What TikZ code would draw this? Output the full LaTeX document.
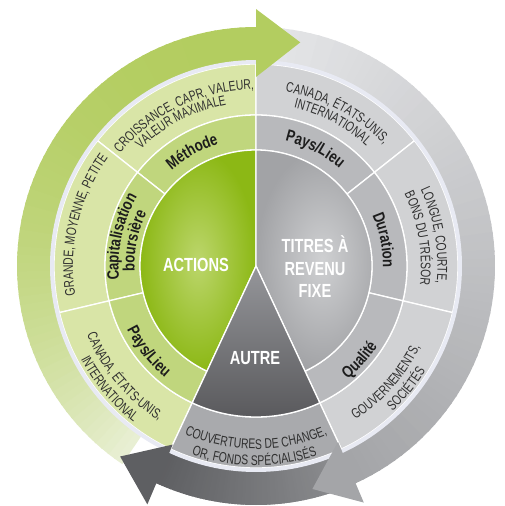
\documentclass[tikz,border=0pt]{standalone}
\usepackage{fontspec}
\setmainfont{Liberation Sans}
\newfontfamily\otf{Liberation Sans}[FakeStretch=0.74]
\newfontfamily\lbf{Liberation Sans Bold}[FakeStretch=0.8]
\newfontfamily\cbf{Liberation Sans Bold}[FakeStretch=0.77]
\usetikzlibrary{decorations.text}

\definecolor{gtail}{HTML}{E8EFD3}
\definecolor{ghead}{HTML}{B3CD60}
\definecolor{ltail}{HTML}{E6E7E9}
\definecolor{lhead}{HTML}{A4A5A8}
\definecolor{dtail}{HTML}{8E8F92}
\definecolor{dhead}{HTML}{5E5F62}
\definecolor{lavc}{HTML}{E8EAF3}
\definecolor{gtext}{HTML}{D9E5A7}
\definecolor{gmid}{HTML}{C0D67D}
\definecolor{ytext}{HTML}{D1D2D4}
\definecolor{ymid}{HTML}{B8B9BC}
\definecolor{atext}{HTML}{A9AAAD}
\definecolor{gcin}{HTML}{BCD66C}
\definecolor{gcout}{HTML}{8CB815}
\definecolor{ycin}{HTML}{CFD0D2}
\definecolor{ycout}{HTML}{A2A3A6}
\definecolor{atop}{HTML}{95969A}
\definecolor{abot}{HTML}{58585B}
\definecolor{txtc}{HTML}{2F2F2F}
\definecolor{labc}{HTML}{1C1C1C}

\newcommand\outf{\otf\fontsize{14pt}{14pt}\selectfont\color{txtc}}
\newcommand\labf{\lbf\fontsize{16.5pt}{16.5pt}\selectfont\color{labc}}
\newcommand\cenf{\cbf\fontsize{19pt}{22.5pt}\selectfont}

\newcommand\ringsec[5]{\filldraw[#5] (#1:#3pt) arc[start angle=#1,end angle=#2,radius=#3pt] -- (#2:#4pt) arc[start angle=#2,end angle=#1,radius=#4pt] -- cycle;}

\newcommand\gband[7]{%
 \foreach \k in {0,...,71}{%
  \pgfmathsetmacro\bandA{#1+(#2-#1)*\k/72}%
  \pgfmathsetmacro\bandB{#1+(#2-#1)*(\k+1)/72-0.5}%
  \pgfmathtruncatemacro\bandP{round(100*(1-(1-\k/71)^#7))}%
  \fill[#4!\bandP!#3] (\bandA:#5pt) arc[start angle=\bandA,end angle=\bandB,radius=#5pt] -- (\bandB:#6pt) arc[start angle=\bandB,end angle=\bandA,radius=#6pt] -- cycle;
 }}

\newcommand\cwtext[4]{\path[decorate,decoration={text along path,text align=center,text={|#3|#4}}] ({#1+40}:#2pt) arc[start angle={#1+40},end angle={#1-40},radius=#2pt];}
\newcommand\ccwtext[4]{\path[decorate,decoration={text along path,text align=center,text={|#3|#4}}] ({#1-40}:#2pt) arc[start angle={#1-40},end angle={#1+40},radius=#2pt];}

\tikzset{wsep/.style={draw=white,line width=1.3pt}}

\begin{document}
\begin{tikzpicture}[x=1pt,y=1pt]
\useasboundingbox (-256,-240) rectangle (248,266);
% arrow bands
\gband{-65}{-115}{dtail}{dhead}{205}{239}{1}
\gband{90}{-65}{ltail}{lhead}{205}{239}{1}
\gband{236}{90}{gtail}{ghead}{205}{239}{2.5}
% outer text ring
\ringsec{90}{141.667}{151}{202}{fill=gtext,wsep}
\ringsec{141.667}{193.333}{151}{202}{fill=gtext,wsep}
\ringsec{193.333}{245}{151}{202}{fill=gtext,wsep}
\ringsec{38.333}{90}{151}{202}{fill=ytext,wsep}
\ringsec{-13.333}{38.333}{151}{202}{fill=ytext,wsep}
\ringsec{-65}{-13.333}{151}{202}{fill=ytext,wsep}
\ringsec{245}{295}{151}{202}{fill=atext,wsep}
% lavender separator
\draw[lavc,line width=4pt] (0,0) circle[radius=204pt];
% mid ring
\ringsec{90}{141.667}{116}{151}{fill=gmid,wsep}
\ringsec{141.667}{193.333}{116}{151}{fill=gmid,wsep}
\ringsec{193.333}{245}{116}{151}{fill=gmid,wsep}
\ringsec{38.333}{90}{116}{151}{fill=ymid,wsep}
\ringsec{-13.333}{38.333}{116}{151}{fill=ymid,wsep}
\ringsec{-65}{-13.333}{116}{151}{fill=ymid,wsep}
% cores
\shade[inner color=gcin,outer color=gcout] (0,0) -- (90:116pt) arc[start angle=90,end angle=245,radius=116pt] -- cycle;
\draw[wsep] (0,0) -- (90:116pt) arc[start angle=90,end angle=245,radius=116pt] -- cycle;
\shade[inner color=ycin,outer color=ycout] (0,0) -- (-65:116pt) arc[start angle=-65,end angle=90,radius=116pt] -- cycle;
\draw[wsep] (0,0) -- (-65:116pt) arc[start angle=-65,end angle=90,radius=116pt] -- cycle;
\shade[top color=atop,bottom color=abot] (0,0) -- (245:151pt) arc[start angle=245,end angle=295,radius=151pt] -- cycle;
\draw[wsep] (0,0) -- (245:151pt) arc[start angle=245,end angle=295,radius=151pt] -- cycle;
% arrow heads
\fill[ghead] (90:189pt) -- (78.8:228pt) -- (90:257pt) -- cycle;
\fill[lhead] (-65:194pt) -- (-75.8:230pt) -- (-65.5:260pt) -- cycle;
\fill[dhead] (245:197pt) -- (234.5:234pt) -- (245.5:262pt) -- cycle;
% outer ring texts
\cwtext{115.5}{176.5}{\outf}{CROISSANCE, CAPR, VALEUR,}
\cwtext{117.5}{164}{\outf}{VALEUR MAXIMALE}
\cwtext{166.5}{183}{\outf}{GRANDE, MOYENNE, PETITE}
\ccwtext{220}{182.5}{\outf}{CANADA, ÉTATS-UNIS,}
\ccwtext{220}{198.5}{\outf}{INTERNATIONAL}
\cwtext{62}{176.5}{\outf}{CANADA, ÉTATS-UNIS,}
\cwtext{62}{163}{\outf}{INTERNATIONAL}
\cwtext{9.8}{181.5}{\outf}{LONGUE, COURTE,}
\cwtext{9.7}{165}{\outf}{BONS DU TRÉSOR}
\ccwtext{-41.7}{183}{\outf}{GOUVERNEMENTS,}
\ccwtext{-39.3}{199.5}{\outf}{SOCIÉTÉS}
\ccwtext{270}{183}{\outf}{COUVERTURES DE CHANGE,}
\ccwtext{269.5}{199.5}{\outf}{OR, FONDS SPÉCIALISÉS}
% mid ring labels
\cwtext{119.2}{127.5}{\labf}{Méthode}
\cwtext{167.8}{137.5}{\labf}{Capitalisation}
\cwtext{168.3}{121.5}{\labf}{boursière}
\ccwtext{218.6}{144}{\labf}{Pays/Lieu}
\cwtext{63.2}{128.5}{\labf}{Pays/Lieu}
\cwtext{11.4}{127}{\labf}{Duration}
\ccwtext{-42.2}{145.5}{\labf}{Qualité}
% core labels
\node[font=\cenf,text=white] (actions) at (-60,1) {ACTIONS};
\node[font=\cenf,text=white,align=center] (titres) at (59,-1) {TITRES À\\REVENU\\FIXE};
\node[font=\cenf,text=white] (autre) at (-1,-92) {AUTRE};
\end{tikzpicture}
\end{document}
